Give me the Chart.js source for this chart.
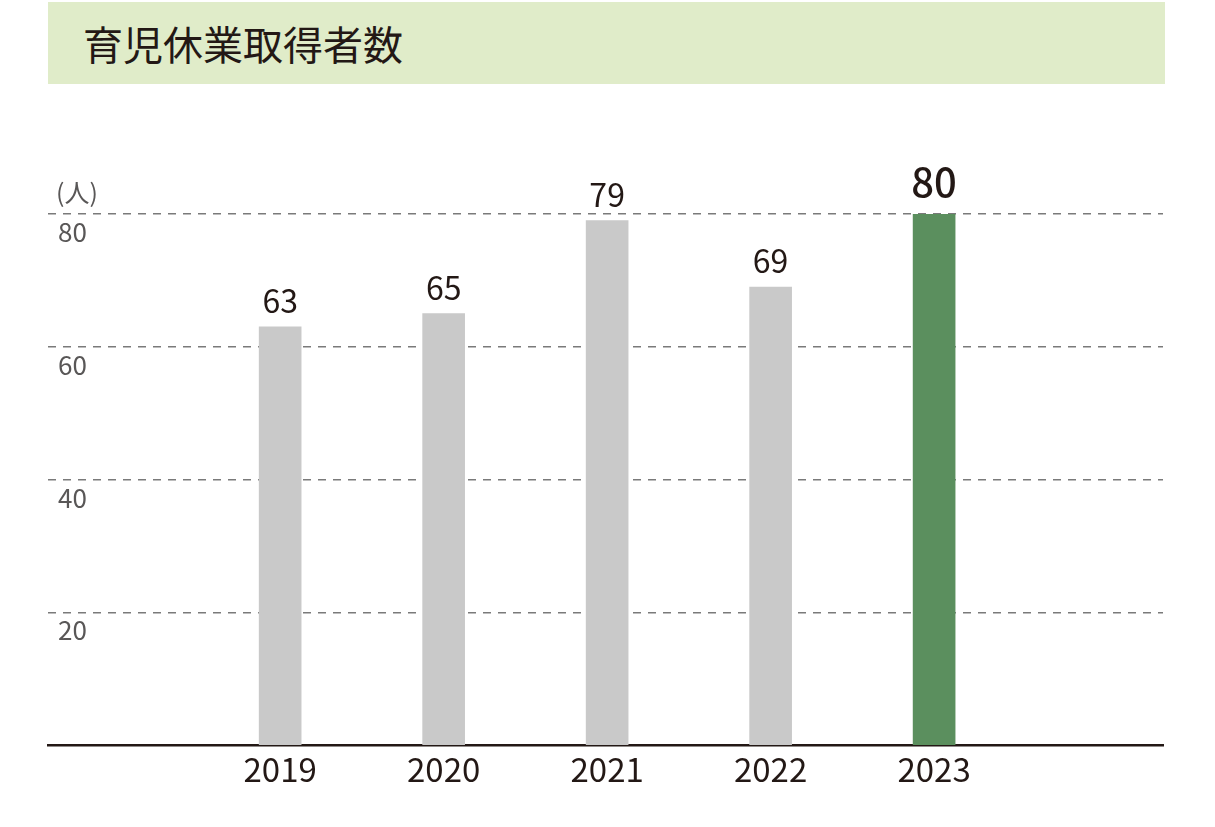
<!DOCTYPE html>
<html lang="ja">
<head>
<meta charset="utf-8">
<title>育児休業取得者数</title>
<script src="https://cdn.jsdelivr.net/npm/chart.js@4.4.1/dist/chart.umd.min.js"></script>
<style>
	html, body { margin: 0; padding: 0; background: #fff; }
	#wrapper { position: relative; width: 1215px; height: 827px; }
	.chart__title {
		position: absolute; left: 48px; top: 2px; width: 1117px; height: 82px;
		background: #e0ecc9; box-sizing: border-box; padding-left: 35px;
		font-family: "Noto Sans CJK JP", "Noto Sans", sans-serif; font-size: 40px;
		line-height: 82px; color: #231815;
	}
	#chartBox { position: absolute; left: 0; top: 0; width: 1215px; height: 827px; }
</style>
</head>
<body>
<div id="wrapper">
	<div class="chart__title">育児休業取得者数</div>
	<div id="chartBox"><canvas id="leaveChart" width="1215" height="827"></canvas></div>
</div>
<script>
const years = ['2019', '2020', '2021', '2022', '2023'];
const takers = [63, 65, 79, 69, 80];
const yTicks = [20, 40, 60, 80];
const unitLabel = '(人)';

const barColors = takers.map((v, i) => i === takers.length - 1 ? '#5b8f5e' : '#c9c9c9');
const fontFamily = '"Noto Sans CJK JP", "Noto Sans", sans-serif';

// подписи значений над столбцами + единица измерения
const valueLabels = {
	id: 'valueLabels',
	afterDatasetsDraw(chart) {
		const ctx = chart.ctx;
		const meta = chart.getDatasetMeta(0);
		ctx.save();
		ctx.textAlign = 'center';
		ctx.textBaseline = 'alphabetic';
		ctx.fillStyle = '#231815';
		meta.data.forEach((bar, i) => {
			const last = i === takers.length - 1;
			ctx.font = (last ? '500 40px ' : '32px ') + fontFamily;
			ctx.fillText(takers[i], bar.x, bar.y - (last ? 17 : 14));
		});
		const yScale = chart.scales.y;
		ctx.textAlign = 'left';
		ctx.fillStyle = '#595757';
		ctx.font = '25px ' + fontFamily;
		ctx.fillText(unitLabel, chart.chartArea.left + 8, yScale.getPixelForValue(80) - 12);
		ctx.restore();
	}
};

const ctx = document.getElementById('leaveChart').getContext('2d');

const leaveChart = new Chart(ctx, {
	type: 'bar',
	data: {
		datasets: [{
			data: takers.map((v, i) => ({ x: i, y: v })),
			backgroundColor: barColors,
			barThickness: 42,
			borderWidth: 0
		}]
	},
	options: {
		responsive: false,
		animation: false,
		layout: { padding: { left: 48, right: 52, top: 214, bottom: 34 } },
		plugins: {
			legend: { display: false },
			tooltip: { enabled: false }
		},
		scales: {
			x: {
				type: 'linear',
				offset: false,
				min: -1.42,
				max: 5.40,
				grid: { display: false, drawTicks: false },
				border: { display: true, color: '#231815', width: 2.5 },
				afterBuildTicks: function(scale) {
					scale.ticks = years.map((y, i) => ({ value: i }));
				},
				ticks: {
					padding: 4,
					color: '#231815',
					font: { family: fontFamily, size: 33 },
					callback: function(v) { return years[v]; }
				}
			},
			y: {
				min: 0,
				max: 80,
				afterBuildTicks: function(scale) {
					scale.ticks = [0].concat(yTicks).map(v => ({ value: v }));
				},
				afterFit: function(scale) { scale.width = 0; },
				grid: {
					drawTicks: false,
					color: c => c.tick.value === 0 ? 'rgba(0,0,0,0)' : '#7a7a7a',
					lineWidth: 1.5
				},
				border: { display: false, dash: [8, 7] },
				ticks: {
					mirror: true,
					padding: 10,
					labelOffset: 18,
					color: '#595757',
					font: { family: fontFamily, size: 26 },
					callback: function(v) { return v === 0 ? '' : v; }
				}
			}
		}
	},
	plugins: [valueLabels]
});
</script>
</body>
</html>
